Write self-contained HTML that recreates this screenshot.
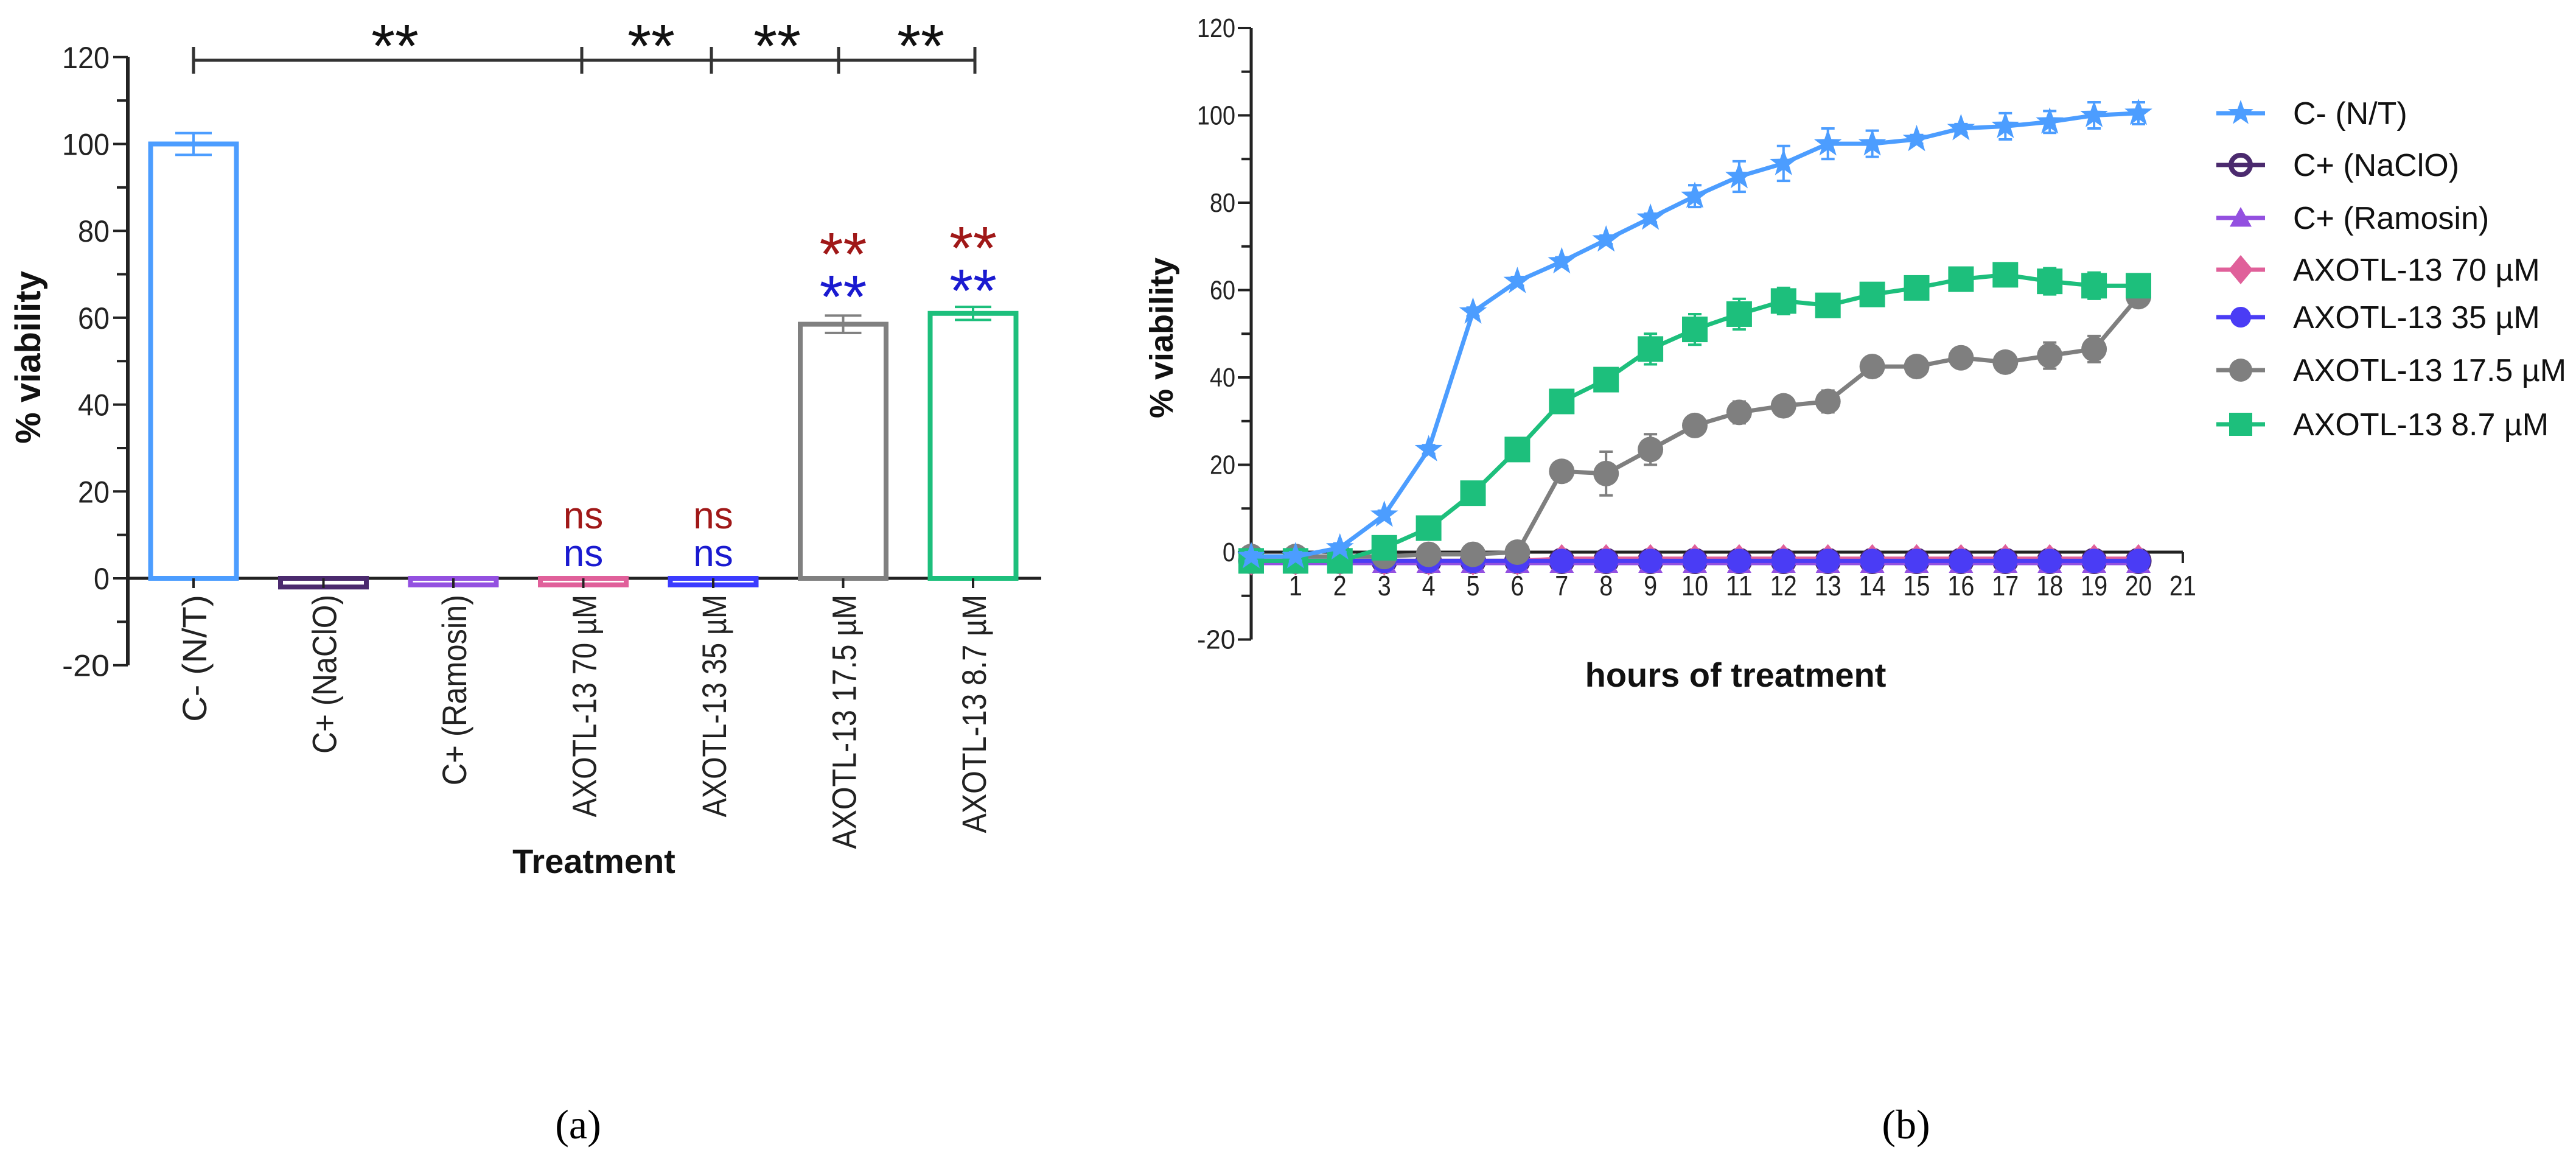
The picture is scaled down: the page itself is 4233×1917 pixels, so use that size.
<!DOCTYPE html>
<html><head><meta charset="utf-8"><style>
html,body{margin:0;padding:0;background:#fff;}
svg{display:block;font-family:"Liberation Sans",Arial,sans-serif;}
</style></head><body>
<svg id="fig" width="4233" height="1917" viewBox="0 0 4233 1917" xmlns="http://www.w3.org/2000/svg">
<g id="barChart"></g>
<g id="lineChart"></g>
<text x="950" y="1870" font-family="Liberation Serif,serif" font-size="68" text-anchor="middle">(a)</text>
<text x="3132" y="1870" font-family="Liberation Serif,serif" font-size="68" text-anchor="middle">(b)</text>
</svg>
<script>
// ---- Bar chart data ----
const barCategories = ["C- (N/T)","C+ (NaClO)","C+ (Ramosin)","AXOTL-13 70 µM","AXOTL-13 35 µM","AXOTL-13 17.5 µM","AXOTL-13 8.7 µM"];
const barValues = [100,-2,-1.5,-1.5,-1.5,58.5,61];
const barErrors = [2.5,0,0,0,0,2,1.5];
const barColors = ["#4c9dff","#4b2a6e","#9350e0","#e0609a","#3b3bff","#808080","#1dbf7c"];
const barYTicks = [-20,0,20,40,60,80,100,120];

// ---- Line chart data ----
const hours = [0,1,2,3,4,5,6,7,8,9,10,11,12,13,14,15,16,17,18,19,20];
const lineXTicks = [1,2,3,4,5,6,7,8,9,10,11,12,13,14,15,16,17,18,19,20,21];
const lineYTicks = [-20,0,20,40,60,80,100,120];
const cNeg = [-1,-1,1,8.5,23.5,55,62,66.5,71.5,76.5,81.5,86,89,93.5,93.5,94.5,97,97.5,98.5,100,100.5];
const cNegErr = [1,1,1,1,1,1,1,1,1,1,2.5,3.5,4,3.5,3,1,1,3,2.5,3,2.5];
const cNaClO = [-2,-2,-2,-2,-2,-2,-2,-2,-2,-2,-2,-2,-2,-2,-2,-2,-2,-2,-2,-2,-2];
const cRamosin = [-2.5,-2.5,-2.5,-2.5,-2.5,-2.5,-2.5,-2.5,-2.5,-2.5,-2.5,-2.5,-2.5,-2.5,-2.5,-2.5,-2.5,-2.5,-2.5,-2.5,-2.5];
const ax70 = [-2,-2,-2,-2,-2,-2,-2,-1.5,-1.5,-1.5,-1.5,-1.5,-1.5,-1.5,-1.5,-1.5,-1.5,-1.5,-1.5,-1.5,-1.5];
const ax35 = [-2,-2,-2,-2,-2,-2,-2,-2,-2,-2,-2,-2,-2,-2,-2,-2,-2,-2,-2,-2,-2];
const ax175 = [-1,-1,-1,-1,-0.5,-0.5,0,18.5,18,23.5,29,32,33.5,34.5,42.5,42.5,44.5,43.5,45,46.5,58.5];
const ax175Err = [0,0,0,0,0,0,0,1,5,3.5,1,2.5,2,2.5,1,1,1,2,3,3,1];
const ax87 = [-2,-2,-2,1,5.5,13.5,23.5,34.5,39.5,46.5,51,54.5,57.5,56.5,59,60.5,62.5,63.5,62,61,61];
const ax87Err = [0,0,0,0,0,0,0,0,1.5,3.5,3.5,3.5,3,1,1,1,1,1,3,3,1];
const seriesNames = ["C- (N/T)","C+ (NaClO)","C+ (Ramosin)","AXOTL-13 70 µM","AXOTL-13 35 µM","AXOTL-13 17.5 µM","AXOTL-13 8.7 µM"];

const NS="http://www.w3.org/2000/svg";
function mk(parent,tag,attrs,text){const e=document.createElementNS(NS,tag);for(const k in attrs)e.setAttribute(k,attrs[k]);if(text!==undefined)e.textContent=text;parent.appendChild(e);return e;}

// ===== Bar chart =====
(function(){
const g=document.getElementById('barChart');
const axX=210, y0px=950, pxPer=142.7/20;
const yS=v=>y0px - v*pxPer;
const xC=i=>318+i*213.5;
const bw=141;
let e=mk(g,'line',{x1:axX,y1:yS(120),x2:axX,y2:yS(-20),stroke:'#222','stroke-width':6});

for(let v=-20;v<=120;v+=10){
  const major=barYTicks.includes(v);
  mk(g,'line',{x1:axX-(major?24:18),y1:yS(v),x2:axX,y2:yS(v),stroke:'#222','stroke-width':4});
}
barYTicks.forEach(v=>{
  const t=mk(g,'text',{x:axX-30,y:yS(v)+18,'font-size':50,'text-anchor':'end',fill:'#222',textLength:String(v).length*26,lengthAdjust:'spacingAndGlyphs'},String(v));
  
});
e=mk(g,'line',{x1:axX,y1:yS(0),x2:1711,y2:yS(0),stroke:'#222','stroke-width':5});

barCategories.forEach((c,i)=>{
  const cx=xC(i), v=barValues[i];
  const top=Math.min(yS(v),yS(0)), h=Math.max(Math.abs(yS(v)-yS(0)),8);
  const r=mk(g,'rect',{x:cx-bw/2,y:top,width:bw,height:h,fill:'none',stroke:barColors[i],'stroke-width':8});
  
  if(barErrors[i]>0){
    const up=yS(v+barErrors[i]), dn=yS(v-barErrors[i]);
    mk(g,'line',{x1:cx,y1:up,x2:cx,y2:dn,stroke:barColors[i],'stroke-width':4});
    mk(g,'line',{x1:cx-30,y1:up,x2:cx+30,y2:up,stroke:barColors[i],'stroke-width':4});
    mk(g,'line',{x1:cx-30,y1:dn,x2:cx+30,y2:dn,stroke:barColors[i],'stroke-width':4});
  }
  mk(g,'line',{x1:cx,y1:yS(0),x2:cx,y2:yS(0)+16,stroke:'#222','stroke-width':4});
  const len=c.length*26.1;
  const t=mk(g,'text',{x:0,y:0,'font-size':56,'text-anchor':'end',fill:'#222',textLength:len,lengthAdjust:'spacingAndGlyphs',transform:`translate(${cx+21},${yS(0)+27}) rotate(-90)`},c);
  
});
const by=99;
e=mk(g,'line',{x1:xC(0),y1:by,x2:1602,y2:by,stroke:'#333','stroke-width':5});

[xC(0),956,1169,1378,1602].forEach(x=>mk(g,'line',{x1:x,y1:by-22,x2:x,y2:by+22,stroke:'#333','stroke-width':5}));
[649,1070,1277,1513].forEach(x=>{const t=mk(g,'text',{x:x,y:110,'font-size':100,'text-anchor':'middle',fill:'#111'},'**');});
[[3,'ns'],[4,'ns']].forEach(([i,s])=>{
  mk(g,'text',{x:xC(i),y:868,'font-size':62,'text-anchor':'middle',fill:'#a01818'},s);
  mk(g,'text',{x:xC(i),y:930,'font-size':62,'text-anchor':'middle',fill:'#1a1ad0'},s);
});
[[5,422],[6,412]].forEach(([i,y])=>{
  mk(g,'text',{x:xC(i),y:y+30,'font-size':100,'text-anchor':'middle',fill:'#a01818'},'**');
  mk(g,'text',{x:xC(i),y:y+100,'font-size':100,'text-anchor':'middle',fill:'#1a1ad0'},'**');
});
let t=mk(g,'text',{x:0,y:0,'font-size':58,'font-weight':'bold','text-anchor':'middle',fill:'#111',transform:'translate(66,587) rotate(-90)'},'% viability');

t=mk(g,'text',{x:976,y:1434,'font-size':56,'font-weight':'bold','text-anchor':'middle',fill:'#111'},'Treatment');

})();

// ===== Line chart =====
(function(){
const g=document.getElementById('lineChart');
const axX=2056, y0px=907, pxPer=143.5/20, hx=72.9;
const yS=v=>y0px - v*pxPer;
const xS=h=>axX + h*hx;
let e=mk(g,'line',{x1:axX,y1:yS(120),x2:axX,y2:yS(-20),stroke:'#222','stroke-width':5});

for(let v=-20;v<=120;v+=10){
  const major=lineYTicks.includes(v);
  mk(g,'line',{x1:axX-(major?22:16),y1:yS(v),x2:axX,y2:yS(v),stroke:'#222','stroke-width':4});
}
lineYTicks.forEach(v=>{const t=mk(g,'text',{x:axX-26,y:yS(v)+15,'font-size':44,'text-anchor':'end',fill:'#222',textLength:String(v).length*21,lengthAdjust:'spacingAndGlyphs'},String(v));});
e=mk(g,'line',{x1:axX,y1:yS(0),x2:xS(21),y2:yS(0),stroke:'#222','stroke-width':5});

lineXTicks.forEach(h=>{
  mk(g,'line',{x1:xS(h),y1:yS(0),x2:xS(h),y2:yS(0)+18,stroke:'#222','stroke-width':4});
  const t=mk(g,'text',{x:xS(h),y:yS(0)+71,'font-size':46,'text-anchor':'middle',fill:'#222',textLength:String(h).length*22,lengthAdjust:'spacingAndGlyphs'},String(h));
  
});
function marker(parent,type,x,y,c,s){
  if(type==='star'){let p='';for(let k=0;k<10;k++){const r=k%2?s*0.4:s;const a=-Math.PI/2+k*Math.PI/5;p+=(k?'L':'M')+(x+r*Math.cos(a))+','+(y+r*Math.sin(a));}return mk(parent,'path',{d:p+'Z',fill:c});}
  if(type==='ocircle')return mk(parent,'circle',{cx:x,cy:y,r:s*0.8,fill:'none',stroke:c,'stroke-width':8});
  if(type==='circle')return mk(parent,'circle',{cx:x,cy:y,r:s,fill:c});
  if(type==='tri')return mk(parent,'path',{d:`M${x},${y-s}L${x+s},${y+s*0.8}L${x-s},${y+s*0.8}Z`,fill:c});
  if(type==='diamond')return mk(parent,'path',{d:`M${x},${y-s*1.2}L${x+s},${y}L${x},${y+s*1.2}L${x-s},${y}Z`,fill:c});
  if(type==='square')return mk(parent,'rect',{x:x-s,y:y-s,width:2*s,height:2*s,fill:c});
}
const series=[
  {v:cNaClO,e:null,c:'#4b2a6e',m:'ocircle',s:22},
  {v:cRamosin,e:null,c:'#9350e0',m:'tri',s:20},
  {v:ax70,e:null,c:'#e0609a',m:'diamond',s:20},
  {v:ax35,e:null,c:'#4a3cf5',m:'circle',s:20},
  {v:ax175,e:ax175Err,c:'#7f7f7f',m:'circle',s:21},
  {v:ax87,e:ax87Err,c:'#1dbf7c',m:'square',s:21},
  {v:cNeg,e:cNegErr,c:'#4c9dff',m:'star',s:24},
];
const nameIdx=[1,2,3,4,5,6,0];
series.forEach((sr,si)=>{
  const sg=mk(g,'g',{});
  
  
  const pts=hours.map((h,i)=>xS(h)+','+yS(sr.v[i])).join(' ');
  mk(sg,'polyline',{points:pts,fill:'none',stroke:sr.c,'stroke-width':7});
  hours.forEach((h,i)=>{
    if(sr.e&&sr.e[i]>0){
      const up=yS(sr.v[i]+sr.e[i]),dn=yS(sr.v[i]-sr.e[i]);
      mk(sg,'line',{x1:xS(h),y1:up,x2:xS(h),y2:dn,stroke:sr.c,'stroke-width':4});
      mk(sg,'line',{x1:xS(h)-11,y1:up,x2:xS(h)+11,y2:up,stroke:sr.c,'stroke-width':4});
      mk(sg,'line',{x1:xS(h)-11,y1:dn,x2:xS(h)+11,y2:dn,stroke:sr.c,'stroke-width':4});
    }
    const m=marker(sg,sr.m,xS(h),yS(sr.v[i]),sr.c,sr.s);
    
    
  });
});
const leg=[['#4c9dff','star',22],['#4b2a6e','ocircle',20],['#9350e0','tri',18],['#e0609a','diamond',20],['#4a3cf5','circle',17],['#7f7f7f','circle',19],['#1dbf7c','square',19]];
const legY=[186,271,358,443,521,608,697];
leg.forEach((l,i)=>{
  const lg=mk(g,'g',{});
  
  
  mk(lg,'line',{x1:3642,y1:legY[i],x2:3722,y2:legY[i],stroke:l[0],'stroke-width':7});
  marker(lg,l[1],3682,legY[i],l[0],l[2]);
  mk(lg,'text',{x:3768,y:legY[i]+18,'font-size':52,fill:'#111'},seriesNames[i]);
});
let t=mk(g,'text',{x:0,y:0,'font-size':54,'font-weight':'bold','text-anchor':'middle',fill:'#111',transform:'translate(1927,555) rotate(-90)'},'% viability');

t=mk(g,'text',{x:2852,y:1128,'font-size':56,'font-weight':'bold','text-anchor':'middle',fill:'#111'},'hours of treatment');

})();
</script>
</body></html>
